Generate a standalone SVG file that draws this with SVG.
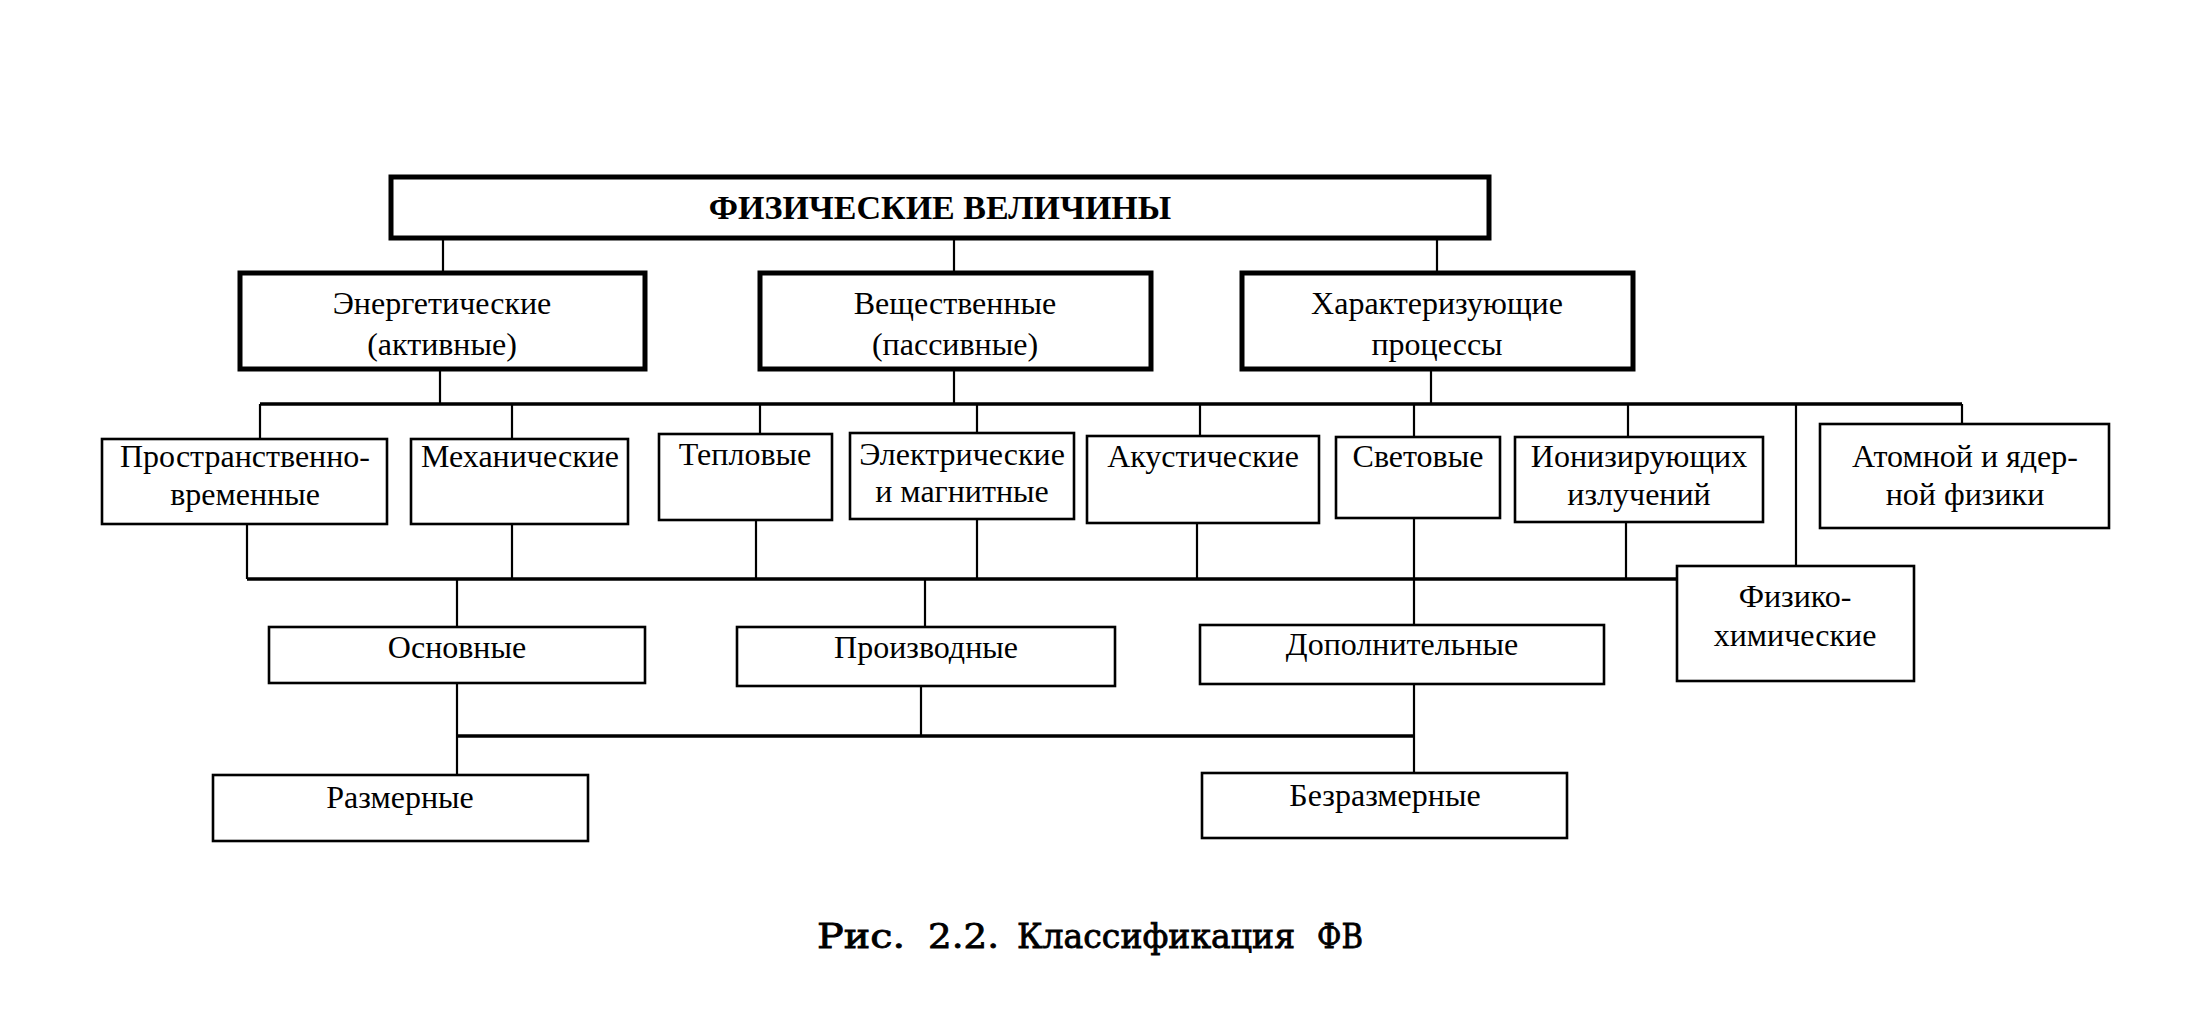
<svg xmlns="http://www.w3.org/2000/svg" width="2186" height="1009" viewBox="0 0 2186 1009">
<style>
.t{font-family:"Liberation Serif","Times New Roman",serif;font-size:32px;fill:#000;text-anchor:middle}
.tb{font-family:"Liberation Serif","Times New Roman",serif;font-size:34px;font-weight:bold;fill:#000;text-anchor:middle}
.cap{font-family:"DejaVu Serif",serif;font-size:33px;fill:#000;stroke:#000;stroke-width:0.8}
.b1{fill:#fff;stroke:#000;stroke-width:5}
.b2{fill:#fff;stroke:#000;stroke-width:2.6}
.c{fill:none;stroke:#000;stroke-width:2.2}
.h{fill:none;stroke:#000;stroke-width:3.4}
</style>
<rect width="2186" height="1009" fill="#fff"/>
<g id="connectors">
<path class="c" d="M443 238V273M954 238V273M1437 238V273"/>
<path class="c" d="M440 369V404M954 369V404M1431 369V404"/>
<path class="h" d="M260 404H1962"/>
<path class="c" d="M260 404V439M512 404V439M760 404V434M977 404V433M1200 404V436M1414 404V437M1628 404V437M1796 404V566M1962 404V424"/>
<path class="c" d="M247 524V579M512 524V579M756 520V579M977 519V579M1197 523V579M1414 518V625M1626 522V579"/>
<path class="h" d="M247 579H1677"/>
<path class="c" d="M457 579V627M925 579V627"/>
<path class="c" d="M457 683V775M921 686V736M1414 684V773"/>
<path class="h" d="M457 736H1414"/>
</g>
<g id="n-root"><rect class="b1" x="391" y="177" width="1098" height="61"/><text class="tb" x="940" y="219">ФИЗИЧЕСКИЕ ВЕЛИЧИНЫ</text></g>
<g id="n-energ"><rect class="b1" x="240" y="273" width="405" height="96"/><text class="t" x="442" y="314">Энергетические</text><text class="t" x="442" y="355">(активные)</text></g>
<g id="n-vesch"><rect class="b1" x="760" y="273" width="391" height="96"/><text class="t" x="955" y="314">Вещественные</text><text class="t" x="955" y="355">(пассивные)</text></g>
<g id="n-harakt"><rect class="b1" x="1242" y="273" width="391" height="96"/><text class="t" x="1437" y="314">Характеризующие</text><text class="t" x="1437" y="355">процессы</text></g>
<g id="n-prostr"><rect class="b2" x="102" y="439" width="285" height="85"/><text class="t" x="245" y="467">Пространственно-</text><text class="t" x="245" y="505">временные</text></g>
<g id="n-meh"><rect class="b2" x="411" y="439" width="217" height="85"/><text class="t" x="520" y="467">Механические</text></g>
<g id="n-tepl"><rect class="b2" x="659" y="434" width="173" height="86"/><text class="t" x="745" y="465">Тепловые</text></g>
<g id="n-elektr"><rect class="b2" x="850" y="433" width="224" height="86"/><text class="t" x="962" y="465">Электрические</text><text class="t" x="962" y="502">и магнитные</text></g>
<g id="n-akust"><rect class="b2" x="1087" y="436" width="232" height="87"/><text class="t" x="1203" y="467">Акустические</text></g>
<g id="n-svet"><rect class="b2" x="1336" y="437" width="164" height="81"/><text class="t" x="1418" y="467">Световые</text></g>
<g id="n-ioniz"><rect class="b2" x="1515" y="437" width="248" height="85"/><text class="t" x="1639" y="467">Ионизирующих</text><text class="t" x="1639" y="505">излучений</text></g>
<g id="n-atom"><rect class="b2" x="1820" y="424" width="289" height="104"/><text class="t" x="1965" y="467">Атомной и ядер-</text><text class="t" x="1965" y="505">ной физики</text></g>
<g id="n-fizhim"><rect class="b2" x="1677" y="566" width="237" height="115"/><text class="t" x="1795" y="607">Физико-</text><text class="t" x="1795" y="646">химические</text></g>
<g id="n-osn"><rect class="b2" x="269" y="627" width="376" height="56"/><text class="t" x="457" y="658">Основные</text></g>
<g id="n-proizv"><rect class="b2" x="737" y="627" width="378" height="59"/><text class="t" x="926" y="658">Производные</text></g>
<g id="n-dop"><rect class="b2" x="1200" y="625" width="404" height="59"/><text class="t" x="1402" y="655">Дополнительные</text></g>
<g id="n-razm"><rect class="b2" x="213" y="775" width="375" height="66"/><text class="t" x="400" y="808">Размерные</text></g>
<g id="n-bezrazm"><rect class="b2" x="1202" y="773" width="365" height="65"/><text class="t" x="1385" y="806">Безразмерные</text></g>
<g id="caption">
<text class="cap" x="817" y="948" textLength="88" lengthAdjust="spacingAndGlyphs">Рис.</text>
<text class="cap" x="928" y="948" textLength="71" lengthAdjust="spacingAndGlyphs">2.2.</text>
<text class="cap" x="1017" y="948" textLength="278" lengthAdjust="spacingAndGlyphs">Классификация</text>
<text class="cap" x="1317" y="948" textLength="46" lengthAdjust="spacingAndGlyphs">ФВ</text>
</g>
</svg>
